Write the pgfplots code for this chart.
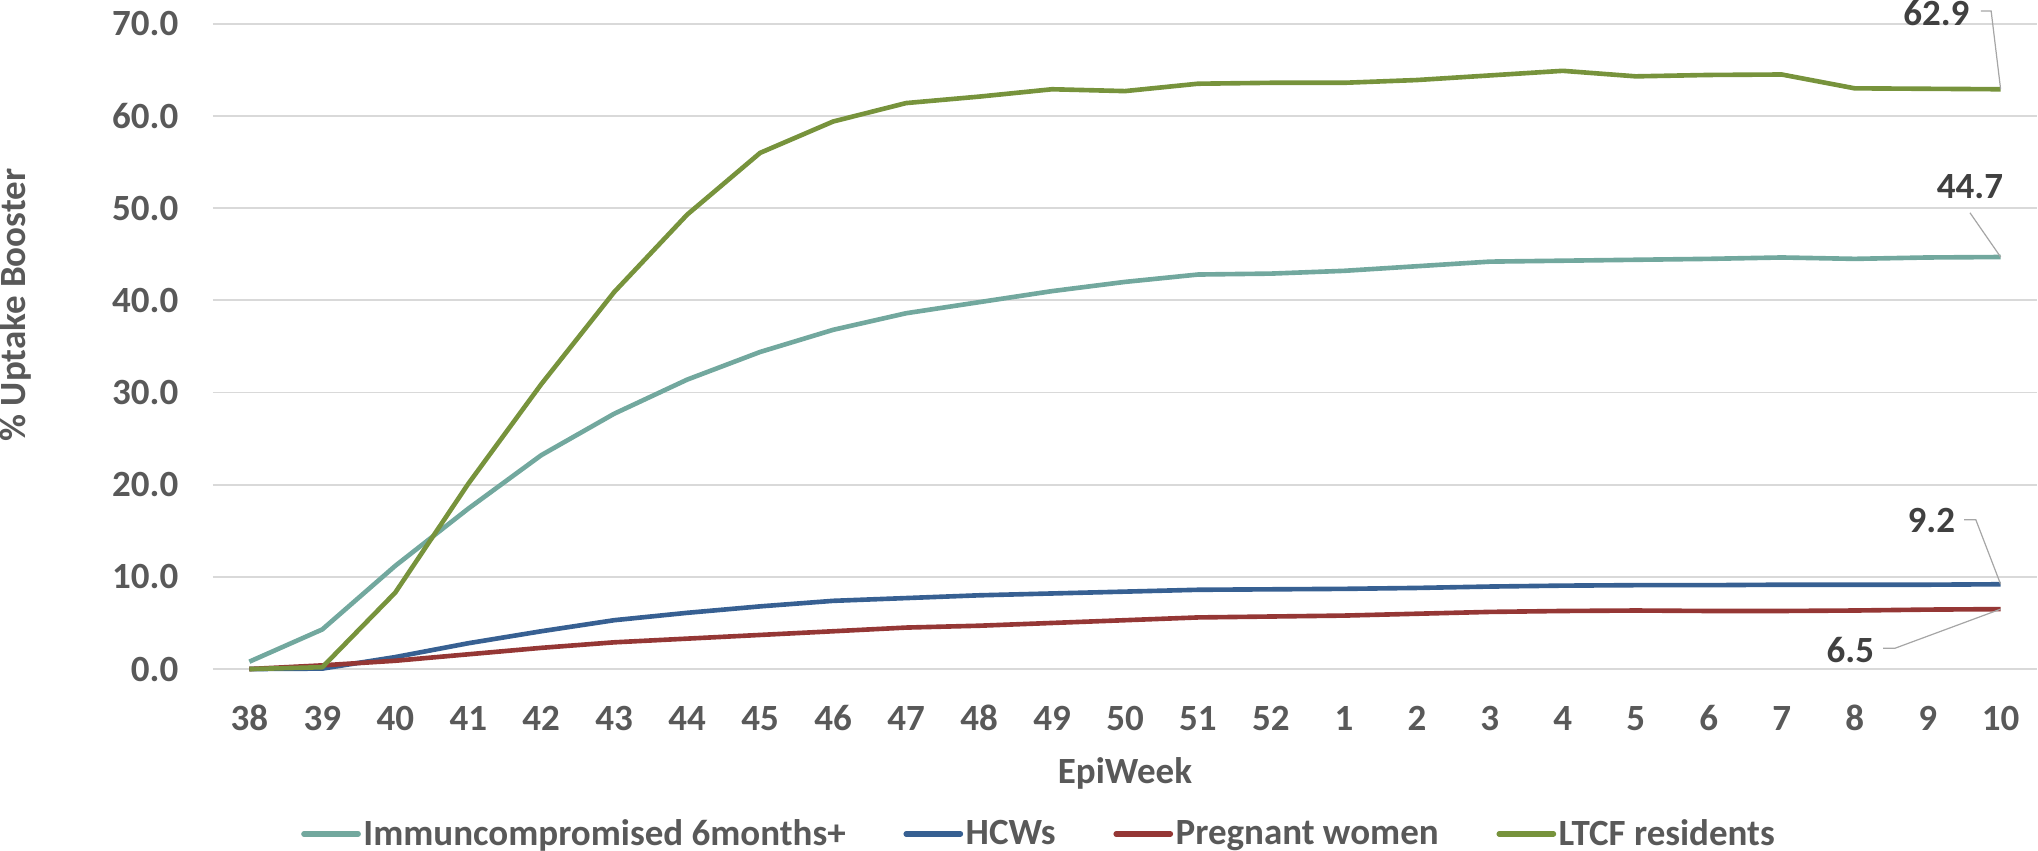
\documentclass[border=0pt]{standalone}
\usepackage{fontspec}
\setmainfont{Carlito}
\usepackage{pgfplots}
\pgfplotsset{compat=1.18}
\usepackage{pgfplotstable}

\definecolor{cTeal}{HTML}{72A89E}
\definecolor{cBlue}{HTML}{376092}
\definecolor{cRed}{HTML}{953735}
\definecolor{cGreen}{HTML}{77933C}
\definecolor{cGrid}{HTML}{D9D9D9}
\definecolor{cTick}{HTML}{595959}
\definecolor{cLab}{HTML}{404040}
\definecolor{cLead}{HTML}{A6A6A6}

% idx 0..24 = EpiWeek 38..52, 1..10
\pgfplotstableread{
idx imm  hcw  preg ltcf
0   0.8  0.0  0.0  0.0
1   4.3  0.05 0.4  0.2
2   11.2 1.3  0.9  8.3
3   17.4 2.8  1.6  20.1
4   23.2 4.1  2.3  30.9
5   27.7 5.3  2.9  40.9
6   31.4 6.1  3.3  49.3
7   34.4 6.8  3.7  56.0
8   36.8 7.4  4.1  59.4
9   38.6 7.7  4.5  61.4
10  39.8 8.0  4.7  62.1
11  41.0 8.2  5.0  62.9
12  42.0 8.4  5.3  62.7
13  42.8 8.6  5.6  63.5
14  42.9 8.65 5.7  63.6
15  43.2 8.7  5.8  63.6
16  43.7 8.8  6.0  63.9
17  44.2 8.95 6.2  64.4
18  44.3 9.05 6.3  64.9
19  44.4 9.1  6.35 64.3
20  44.5 9.1  6.3  64.45
21  44.65 9.15 6.3 64.5
22  44.5 9.15 6.35 63.0
23  44.65 9.15 6.45 62.95
24  44.7 9.2  6.5  62.9
}\datatable

\newcommand{\chartfont}{\bfseries\fontsize{18.4}{21}\selectfont}

\begin{document}
\begin{tikzpicture}
\begin{axis}[
    scale only axis,
    width=907.5pt, height=321pt,
    xmin=-0.5, xmax=24.5,
    ymin=0, ymax=70,
    xtick={0,...,24},
    xticklabels={38,39,40,41,42,43,44,45,46,47,48,49,50,51,52,1,2,3,4,5,6,7,8,9,10},
    ytick={0,10,...,70},
    yticklabels={0.0,10.0,20.0,30.0,40.0,50.0,60.0,70.0},
    major tick length=0pt,
    axis line style={draw=none},
    ymajorgrids=true,
    grid style={cGrid, line width=0.9pt},
    ticklabel style={font=\chartfont, text=cTick, inner sep=0pt},
    yticklabel style={anchor=east, xshift=-17pt},
    xticklabel style={anchor=center, yshift=-24.5pt},
    xlabel={EpiWeek},
    ylabel={\% Uptake Booster},
    every axis x label/.style={at={(axis description cs:0.5,0)}, yshift=-52pt, anchor=center,
        inner sep=0pt, font=\chartfont, text=cTick},
    every axis y label/.style={at={(axis description cs:0,0.564)}, xshift=-98pt, rotate=90, anchor=center,
        inner sep=0pt, font=\chartfont, text=cTick},
    clip=false,
    legend columns=4,
    legend style={at={(axis description cs:0.453,0)}, anchor=center, yshift=-82pt,
        draw=none, fill=none, font=\chartfont, text=cTick,
        nodes={inner sep=1.25pt},
        /tikz/every even column/.append style={column sep=27.5pt},
        inner sep=0pt},
    legend image code/.code={\draw[#1, line width=2.7pt, line cap=round] (0pt,0pt) -- (27pt,0pt);},
    every axis plot/.append style={line width=2.3pt, line join=round, no markers},
]
\addplot[cTeal] table[x=idx, y=imm] {\datatable};
\addlegendentry{Immuncompromised 6months+}
\addplot[cBlue] table[x=idx, y=hcw] {\datatable};
\addlegendentry{HCWs}
\addplot[cRed] table[x=idx, y=preg] {\datatable};
\addlegendentry{Pregnant women}
\addplot[cGreen] table[x=idx, y=ltcf] {\datatable};
\addlegendentry{LTCF residents}

% data labels with leader lines
\draw[cLead, line width=0.6pt] (axis cs:23.73,71.4) -- (axis cs:23.87,71.4) -- (axis cs:24,62.9);
\node[inner sep=0pt, font=\chartfont, text=cLab] at (axis cs:23.12,71.2) {62.9};
\draw[cLead, line width=0.6pt] (axis cs:23.58,49.5) -- (axis cs:24,44.7);
\node[inner sep=0pt, font=\chartfont, text=cLab] at (axis cs:23.58,52.3) {44.7};
\draw[cLead, line width=0.6pt] (axis cs:23.5,16.2) -- (axis cs:23.66,16.2) -- (axis cs:24,9.2);
\node[inner sep=0pt, font=\chartfont, text=cLab] at (axis cs:23.05,16.1) {9.2};
\draw[cLead, line width=0.6pt] (axis cs:22.39,2.25) -- (axis cs:22.55,2.25) -- (axis cs:24,6.5);
\node[inner sep=0pt, font=\chartfont, text=cLab] at (axis cs:21.94,2.05) {6.5};
\end{axis}
\end{tikzpicture}
\end{document}
